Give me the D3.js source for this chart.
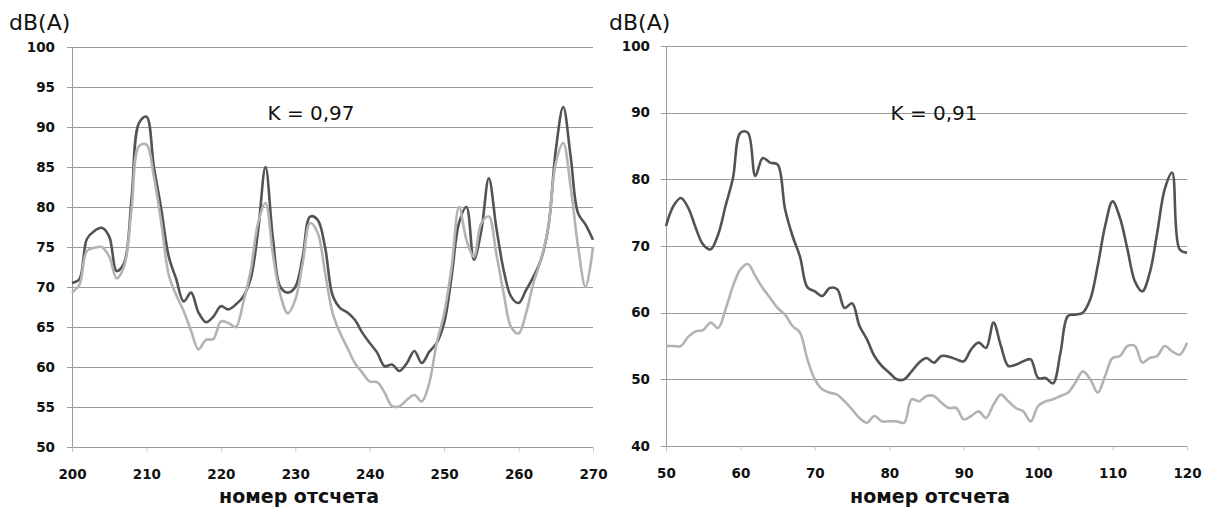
<!DOCTYPE html>
<html>
<head>
<meta charset="utf-8">
<script src="https://cdn.jsdelivr.net/npm/d3@7"></script>
<style>
  body { margin: 0; background: #fff; }
  svg { display: block; }
  text { font-family: "DejaVu Sans", sans-serif; fill: #111; }
</style>
</head>
<body>
<div id="wrapper"></div>
<script>
// левый график: отсчеты 200..270
const leftIdx = d3.range(200, 271);
const leftDark = [
  70.5, 71, 76, 77, 77.4, 76.3, 72, 73, 81, 90.5,
  91.3, 85, 79.7, 73.8, 71, 68.2, 69.3, 66.8, 65.6, 66.3,
  67.6, 67.2, 67.8, 68.8, 71, 77, 85, 76, 70, 69.3,
  70, 73.8, 78.8, 78.4, 75, 69, 67.4, 66.8, 65.9, 64.3,
  63, 61.8, 60.1, 60.3, 59.5, 60.5, 62, 60.5, 61.9, 63,
  65.5, 71.3, 78, 80, 73.4, 77.1, 83.6, 77.5, 72.1, 68.8,
  68, 69.6, 71.3, 73.4, 77.5, 87.1, 92.5, 86.3, 79.2, 77.8,
  75.9
];
const leftLight = [
  69.3, 70.3, 74.5, 74.9, 75, 73.8, 71.1, 72.6, 79.7, 87.6,
  87.8, 83.8, 78, 71.5, 69, 67, 64.5, 62.2, 63.4, 63.5,
  65.7, 65.5, 65, 68, 72, 78, 80.5, 74, 69, 66.7,
  68.4, 73, 78, 76.8, 71.8, 66.8, 64.3, 62.4, 60.5, 59.3,
  58.2, 58.1, 56.8, 55.1, 55.1, 55.9, 56.5, 55.7, 58, 63,
  66.7, 72.5, 80, 75.9, 73.8, 78, 78.8, 74.2, 69.2, 65,
  64.2, 66.7, 70.5, 73.4, 77.5, 85.5, 88, 82.5, 75, 70,
  75
];
const leftYTicks = [50, 55, 60, 65, 70, 75, 80, 85, 90, 95, 100];
const leftXTicks = [200, 210, 220, 230, 240, 250, 260, 270];

// правый график: отсчеты 50..120
const rightIdx = d3.range(50, 121);
const rightDark = [
  73, 76, 77.2, 75.7, 72.7, 70.2, 69.5, 71.7, 76, 80.2,
  87, 87, 80.5, 83.2, 82.5, 82.2, 75.5, 71.5, 68.4, 63.8,
  63.2, 62.5, 63.7, 63.5, 60.7, 61.4, 58, 56, 53.5, 52,
  51, 50, 50, 51.2, 52.5, 53.2, 52.5, 53.5, 53.4, 53,
  52.7, 54.5, 55.5, 54.7, 58.5, 55, 52, 52.2, 52.7, 53,
  50.2, 50.2, 49.4, 54, 59.5, 59.7, 60, 62, 67, 73,
  76.7, 74.2, 69.5, 64.7, 63.2, 66, 72, 78.5, 81, 69.5,
  69
];
const rightLight = [
  55, 55, 55, 56.4, 57.2, 57.4, 58.5, 57.7, 60.5, 64,
  66.5, 67.3, 65.5, 63.7, 62.2, 60.7, 59.7, 58, 57, 53,
  50, 48.5, 48, 47.7, 46.7, 45.5, 44.2, 43.5, 44.5, 43.7,
  43.7, 43.7, 43.5, 47, 46.7, 47.5, 47.5, 46.5, 45.7, 45.7,
  44, 44.5, 45.2, 44.2, 46.2, 47.7, 46.7, 45.7, 45.2, 43.7,
  46, 46.7, 47, 47.5, 48, 49.5, 51.2, 50, 48, 50.5,
  53.2, 53.5, 55, 55, 52.5, 53.2, 53.5, 55, 54.2, 53.7,
  55.5
];
const rightYTicks = [40, 50, 60, 70, 80, 90, 100];
const rightXTicks = [50, 60, 70, 80, 90, 100, 110, 120];

const svg = d3.select("#wrapper")
  .append("svg")
  .attr("width", 1208)
  .attr("height", 507);

function drawPanel(opt) {
  const xScaler = d3.scaleLinear()
    .domain([opt.xTicks[0], opt.xTicks[opt.xTicks.length - 1]])
    .range([opt.left, opt.right]);
  const yScaler = d3.scaleLinear()
    .domain([opt.yTicks[0], opt.yTicks[opt.yTicks.length - 1]])
    .range([opt.bottom, opt.top]);

  const g = svg.append("g");

  // сетка
  g.append("g")
    .selectAll("line")
    .data(opt.yTicks)
    .enter()
    .append("line")
    .attr("x1", opt.left - 5)
    .attr("x2", opt.right)
    .attr("y1", d => Math.round(yScaler(d)) + 0.5)
    .attr("y2", d => Math.round(yScaler(d)) + 0.5)
    .attr("stroke", "#9a9a9a")
    .attr("stroke-width", 1);

  // ось Y
  g.append("line")
    .attr("x1", opt.left + 0.5)
    .attr("x2", opt.left + 0.5)
    .attr("y1", yScaler(opt.yTicks[opt.yTicks.length - 1]))
    .attr("y2", opt.bottom + 5)
    .attr("stroke", "#9a9a9a");

  const yAxisGen = d3.axisLeft(yScaler)
    .tickValues(opt.yTicks)
    .tickSize(0)
    .tickPadding(opt.labelGap);
  const yAxis = g.append("g")
    .attr("transform", `translate(${opt.left},0)`)
    .call(yAxisGen);
  yAxis.select(".domain").remove();
  yAxis.selectAll("text")
    .attr("font-family", "DejaVu Sans")
    .attr("font-weight", "bold")
    .attr("font-size", "13.5px")
    .attr("fill", "#111");

  const xAxisGen = d3.axisBottom(xScaler)
    .tickValues(opt.xTicks)
    .tickSize(4)
    .tickPadding(18);
  const xAxis = g.append("g")
    .attr("transform", `translate(0,${opt.bottom + 0.5})`)
    .call(xAxisGen);
  xAxis.select(".domain").remove();
  xAxis.selectAll("line").attr("stroke", "#c8c8c8");
  xAxis.selectAll("text")
    .attr("font-family", "DejaVu Sans")
    .attr("font-weight", "bold")
    .attr("font-size", "13.5px")
    .attr("fill", "#111");

  const lineGen = d3.line()
    .x(d => xScaler(d[0]))
    .y(d => yScaler(d[1]))
    .curve(d3.curveCatmullRom.alpha(0.5));

  g.append("path")
    .datum(d3.zip(opt.idx, opt.dark))
    .attr("d", lineGen)
    .attr("fill", "none")
    .attr("stroke", "#535353")
    .attr("stroke-width", 2.6)
    .attr("stroke-linejoin", "round");

  g.append("path")
    .datum(d3.zip(opt.idx, opt.light))
    .attr("d", lineGen)
    .attr("fill", "none")
    .attr("stroke", "#b3b3b3")
    .attr("stroke-width", 2.6)
    .attr("stroke-linejoin", "round");

  g.append("text")
    .attr("x", opt.unitX)
    .attr("y", 30)
    .attr("font-size", "22px")
    .text("dB(A)");

  g.append("text")
    .attr("x", opt.kX)
    .attr("y", 120)
    .attr("text-anchor", "middle")
    .attr("font-size", "20px")
    .text(opt.k);

  g.append("text")
    .attr("x", opt.titleX)
    .attr("y", 503)
    .attr("text-anchor", "middle")
    .attr("font-weight", "bold")
    .attr("font-size", "19px")
    .text("номер отсчета");
}

drawPanel({
  idx: leftIdx, dark: leftDark, light: leftLight,
  xTicks: leftXTicks, yTicks: leftYTicks,
  left: 72, right: 593, top: 47, bottom: 447,
  labelGap: 17, unitX: 9, kX: 311, k: "K = 0,97", titleX: 299
});

drawPanel({
  idx: rightIdx, dark: rightDark, light: rightLight,
  xTicks: rightXTicks, yTicks: rightYTicks,
  left: 666, right: 1187, top: 46, bottom: 446,
  labelGap: 16, unitX: 609, kX: 934, k: "K = 0,91", titleX: 930
});
</script>
</body>
</html>
